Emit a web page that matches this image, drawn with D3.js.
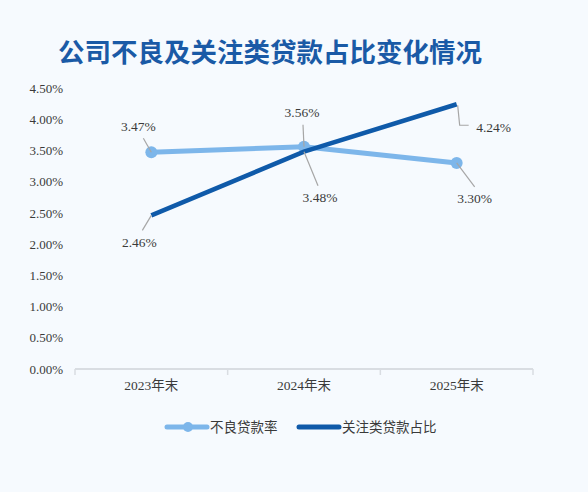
<!DOCTYPE html>
<html>
<head>
<meta charset="utf-8">
<script src="https://cdn.jsdelivr.net/npm/d3@7"></script>
<style>
  html, body { margin: 0; padding: 0; background: #f6fafe; }
  svg { display: block; }
  .tick text { font-family: "Liberation Serif", "Noto Sans CJK SC", serif; }
</style>
</head>
<body>
<div id="chart"></div>
<script>
// chart data
const categories = ["2023年末", "2024年末", "2025年末"];
const nplRate = [3.47, 3.56, 3.30];          // 不良贷款率
const mentionRate = [2.46, 3.48, 4.24];      // 关注类贷款占比
const yTicks = [0, 0.5, 1, 1.5, 2, 2.5, 3, 3.5, 4, 4.5];
const seriesNames = ["不良贷款率", "关注类贷款占比"];

// label offsets (dx, dy of text from point, leader line end)
const nplLabelPos = [
  {dx: -13, dy: -26, lx: -8, ly: -14},
  {dx: -2, dy: -34, lx: -1, ly: -22},
  {dx: 18, dy: 36, lx: 18, ly: 24}
];
const mentionLabelPos = [
  {dx: -12, dy: 27, lx: -9, ly: 15},
  {dx: 16, dy: 46, lx: 14, ly: 34},
  {dx: 37, dy: 23, elbow: true}
];

const W = 588, H = 492;
const lightBlue = "#7db6ea";
const darkBlue = "#0f5aa9";
const textColor = "#3a3a3a";

const svg = d3.select("#chart").append("svg")
  .attr("width", W)
  .attr("height", H);

svg.append("rect").attr("width", W).attr("height", H).attr("fill", "#f6fafe");

// title
svg.append("text")
  .attr("x", 270)
  .attr("y", 62)
  .attr("text-anchor", "middle")
  .attr("font-family", "'Noto Sans CJK SC', sans-serif")
  .attr("font-weight", "bold")
  .attr("font-size", 26.5)
  .attr("fill", "#1a5aa6")
  .text("公司不良及关注类贷款占比变化情况");

const x = d3.scaleBand().domain(categories).range([75, 533]);
const y = d3.scaleLinear().domain([0, 4.5]).range([369, 88]);
const cx = d => x(d) + x.bandwidth() / 2;

// y axis (labels only)
const yAxis = d3.axisLeft(y)
  .tickValues(yTicks)
  .tickSize(0)
  .tickPadding(0)
  .tickFormat(d => d3.format(".2f")(d) + "%");

svg.append("g")
  .attr("transform", "translate(63,0)")
  .call(yAxis)
  .call(g => g.select(".domain").remove())
  .selectAll("text")
  .attr("font-size", 13)
  .attr("fill", textColor);

// x axis
const xAxis = d3.axisBottom(x).tickSize(0).tickPadding(11);
const xg = svg.append("g")
  .attr("transform", "translate(0,369)")
  .call(xAxis);
xg.select(".domain").attr("stroke", "#d9dde2").attr("stroke-width", 2)
  .attr("d", "M75,0H533");
xg.selectAll("text").attr("font-size", 13.5).attr("fill", textColor)
  .attr("font-family", "'Liberation Serif', 'Noto Sans CJK SC', serif");
// category separators
svg.append("g").selectAll("line")
  .data(categories.concat(["end"]))
  .join("line")
  .attr("x1", (d, i) => i < categories.length ? x(d) : x.range()[1])
  .attr("x2", (d, i) => i < categories.length ? x(d) : x.range()[1])
  .attr("y1", 369).attr("y2", 375)
  .attr("stroke", "#d9dde2").attr("stroke-width", 1.5);

const line = d3.line()
  .x((d, i) => cx(categories[i]))
  .y(d => y(d));

// NPL rate line
svg.append("path")
  .datum(nplRate)
  .attr("d", line)
  .attr("fill", "none")
  .attr("stroke", lightBlue)
  .attr("stroke-width", 5)
  .attr("stroke-linecap", "round");

svg.append("g").selectAll("circle")
  .data(nplRate)
  .join("circle")
  .attr("cx", (d, i) => cx(categories[i]))
  .attr("cy", d => y(d))
  .attr("r", 6)
  .attr("fill", lightBlue);

// special mention line
svg.append("path")
  .datum(mentionRate)
  .attr("d", line)
  .attr("fill", "none")
  .attr("stroke", darkBlue)
  .attr("stroke-width", 4.5);

// data labels
function drawLabels(values, pos) {
  const g = svg.append("g");
  values.forEach((v, i) => {
    const px = cx(categories[i]), py = y(v);
    const p = pos[i];
    if (p.elbow) {
      g.append("path")
        .attr("d", `M${px + 1},${py + 1}L${px + 3},${py + 21}H${px + 12}`)
        .attr("fill", "none").attr("stroke", "#a6a6a6").attr("stroke-width", 1.2);
    } else {
      g.append("line")
        .attr("x1", px).attr("y1", py)
        .attr("x2", px + p.lx).attr("y2", py + p.ly)
        .attr("stroke", "#a6a6a6").attr("stroke-width", 1.2);
    }
    g.append("text")
      .attr("x", px + p.dx).attr("y", py + p.dy + 4.5)
      .attr("text-anchor", "middle")
      .attr("font-family", "'Liberation Serif', serif")
      .attr("font-size", 13.5).attr("fill", textColor)
      .text(d3.format(".2f")(v) + "%");
  });
}
drawLabels(nplRate, nplLabelPos);
drawLabels(mentionRate, mentionLabelPos);

// legend
const legend = svg.append("g").attr("transform", "translate(0,427)");
const leg1 = legend.append("g").attr("transform", "translate(167,0)");
leg1.append("line").attr("x1", 0).attr("x2", 40).attr("y1", 0).attr("y2", 0)
  .attr("stroke", lightBlue).attr("stroke-width", 5).attr("stroke-linecap", "round");
leg1.append("circle").attr("cx", 21).attr("cy", 0).attr("r", 5).attr("fill", lightBlue);
leg1.append("text").attr("x", 43).attr("y", 5)
  .attr("font-family", "'Noto Sans CJK SC', sans-serif")
  .attr("font-size", 13.5).attr("fill", textColor).text(seriesNames[0]);

const leg2 = legend.append("g").attr("transform", "translate(299,0)");
leg2.append("line").attr("x1", 0).attr("x2", 40).attr("y1", 0).attr("y2", 0)
  .attr("stroke", darkBlue).attr("stroke-width", 5).attr("stroke-linecap", "round");
leg2.append("text").attr("x", 43).attr("y", 5)
  .attr("font-family", "'Noto Sans CJK SC', sans-serif")
  .attr("font-size", 13.5).attr("fill", textColor).text(seriesNames[1]);
</script>
</body>
</html>
